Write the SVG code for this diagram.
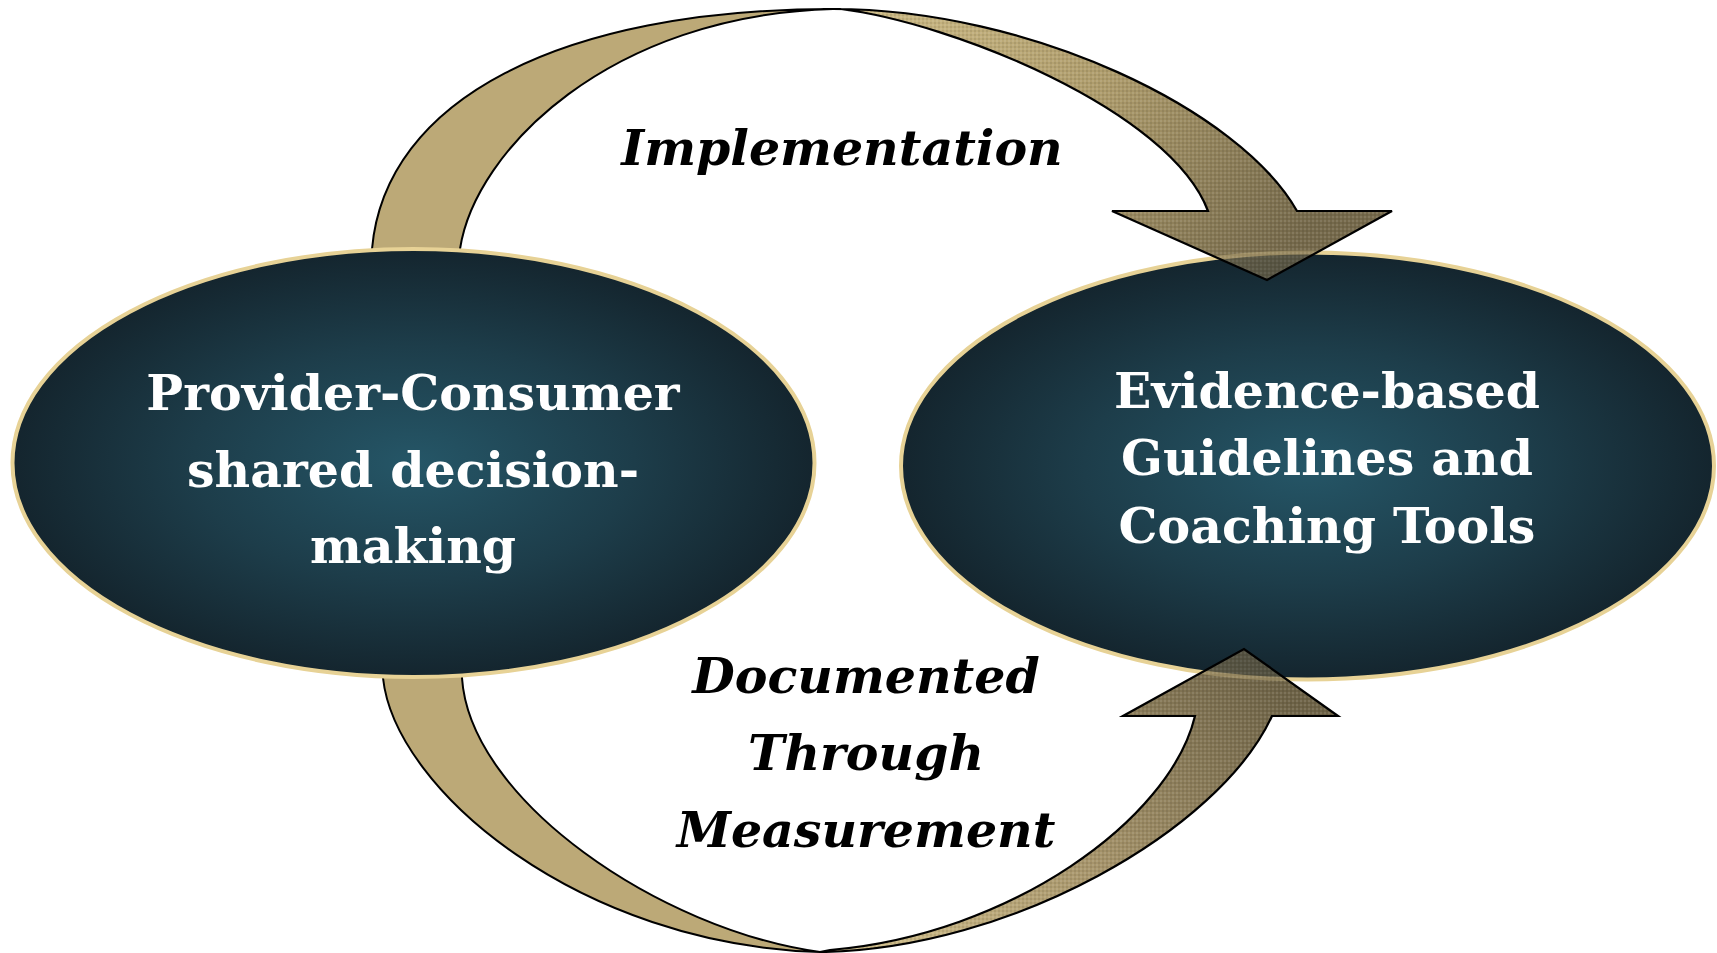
<svg xmlns="http://www.w3.org/2000/svg" width="1717" height="953" viewBox="0 0 1717 953">
  <defs>
    <style>
      .node-fill { stroke: #E7D296; stroke-width: 4; }
      .node-text { font-family: "DejaVu Serif", "Liberation Serif", serif; font-weight: bold; font-size: 49px; fill: #FFFFFF; text-anchor: middle; }
      .label { font-family: "DejaVu Serif", "Liberation Serif", serif; font-weight: bold; font-style: italic; font-size: 49px; fill: #000000; text-anchor: middle; }
      .tail { fill: #BCA977; stroke: #000000; stroke-width: 2; stroke-linejoin: miter; }
      .head-line { fill: none; stroke: #000000; stroke-width: 2.2; stroke-linejoin: miter; }
    </style>
    <radialGradient id="nodeGrad" cx="0.5" cy="0.5" r="0.5">
      <stop offset="0" stop-color="#255667"/>
      <stop offset="0.55" stop-color="#1D3D4A"/>
      <stop offset="1" stop-color="#14252E"/>
    </radialGradient>
    <linearGradient id="topArrowGrad" gradientUnits="userSpaceOnUse" x1="860" y1="0" x2="1270" y2="280">
      <stop offset="0" stop-color="#CDBB86"/>
      <stop offset="0.5" stop-color="#AE9C6C"/>
      <stop offset="1" stop-color="#75694B"/>
    </linearGradient>
    <linearGradient id="bottomArrowGrad" gradientUnits="userSpaceOnUse" x1="860" y1="950" x2="1250" y2="650">
      <stop offset="0" stop-color="#D2C08C"/>
      <stop offset="0.5" stop-color="#A5936A"/>
      <stop offset="1" stop-color="#6E6347"/>
    </linearGradient>
    <pattern id="grain" width="4" height="4" patternUnits="userSpaceOnUse">
      <rect x="0" y="0" width="2" height="2" fill="#FFFFFF" opacity="0.10"/>
      <rect x="2" y="2" width="2" height="2" fill="#000000" opacity="0.08"/>
    </pattern>

    <!-- arrow outlines shared by fill, overlay and stroke -->
    <path id="topHead" d="M 833,9 C 1030,9 1240,110 1297,211 L 1392,211 L 1267,280 L 1112,211 L 1208,211 C 1170,110 950,22 840,9 Z"/>
    <path id="bottomHead" d="M 820,952 C 1010,950 1220,830 1272,716 L 1338,716 L 1244,649 L 1123,716 L 1195,716 C 1170,820 1010,935 830,950 Z"/>

    <clipPath id="clipTopHead"><use href="#topHead"/></clipPath>
    <clipPath id="clipBottomHead"><use href="#bottomHead"/></clipPath>
  </defs>

  <rect width="1717" height="953" fill="#FFFFFF"/>

  <g id="connectors">
    <!-- tail bands, tucked behind the nodes -->
    <path class="tail" d="M 372,256 L 372,249 C 385,100 560,9 833,9 C 610,15 475,150 460,249 L 460,256 Z"/>
    <path class="tail" d="M 383,670 L 383,678 C 395,790 580,945 820,952 C 660,930 470,800 462,678 L 462,670 Z"/>
  </g>

  <g id="node-provider">
    <ellipse class="node-fill" cx="413.5" cy="463" rx="401" ry="214" fill="url(#nodeGrad)"/>
    <text class="node-text" x="413" y="410">Provider-Consumer</text>
    <text class="node-text" x="413" y="487">shared decision-</text>
    <text class="node-text" x="413" y="563">making</text>
  </g>

  <g id="node-evidence">
    <ellipse class="node-fill" cx="1307.5" cy="466" rx="406.5" ry="213.5" fill="url(#nodeGrad)"/>
    <text class="node-text" x="1327" y="408">Evidence-based</text>
    <text class="node-text" x="1327" y="475">Guidelines and</text>
    <text class="node-text" x="1327" y="543">Coaching Tools</text>
  </g>

  <g id="connector-heads">
    <!-- Implementation arrow -->
    <use href="#topHead" fill="url(#topArrowGrad)"/>
    <use href="#topHead" fill="url(#grain)"/>
    <g clip-path="url(#clipTopHead)" opacity="0.3">
      <ellipse cx="1307.5" cy="466" rx="406.5" ry="213.5" fill="#14252E" stroke="#E7D296" stroke-width="4"/>
    </g>
    <use href="#topHead" class="head-line"/>

    <!-- Measurement arrow -->
    <use href="#bottomHead" fill="url(#bottomArrowGrad)"/>
    <use href="#bottomHead" fill="url(#grain)"/>
    <g clip-path="url(#clipBottomHead)" opacity="0.3">
      <ellipse cx="1307.5" cy="466" rx="406.5" ry="213.5" fill="#14252E" stroke="#E7D296" stroke-width="4"/>
    </g>
    <use href="#bottomHead" class="head-line"/>

    <text class="label" x="842" y="165">Implementation</text>
    <text class="label" x="866" y="693">Documented</text>
    <text class="label" x="866" y="770">Through</text>
    <text class="label" x="866" y="847">Measurement</text>
  </g>
</svg>
